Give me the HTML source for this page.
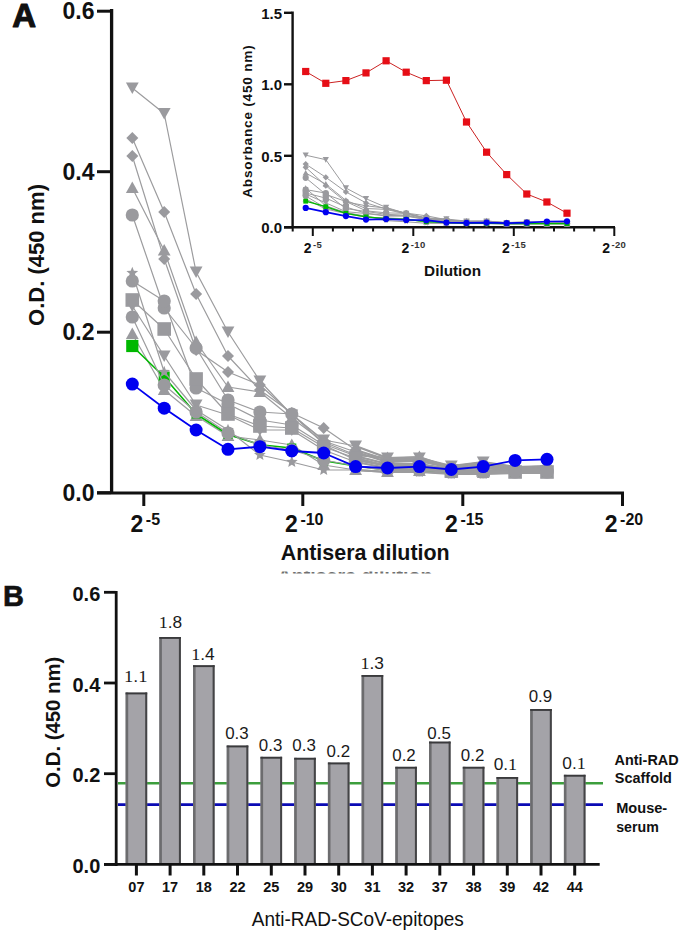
<!DOCTYPE html>
<html><head><meta charset="utf-8"><title>ELISA figure</title>
<style>
html,body{margin:0;padding:0;background:#fff;}
body{width:685px;height:935px;overflow:hidden;font-family:"Liberation Sans", sans-serif;}
svg{display:block;}
text{font-family:"Liberation Sans", sans-serif;}
.b{font-weight:bold;}
</style></head><body>
<svg width="685" height="935" viewBox="0 0 685 935">
<rect width="685" height="935" fill="#fff"/>

<text x="12.3" y="26.7" font-size="33" class="b" fill="#111" stroke="#111" stroke-width="1.1" stroke-linejoin="round">A</text>
<line x1="111.6" y1="9" x2="111.6" y2="494" stroke="#111" stroke-width="3.3"/>
<line x1="97" y1="11.2" x2="111" y2="11.2" stroke="#111" stroke-width="3"/>
<text x="94.5" y="19.3" font-size="23" class="b" text-anchor="end" fill="#111">0.6</text>
<line x1="97" y1="171.7" x2="111" y2="171.7" stroke="#111" stroke-width="3"/>
<text x="94.5" y="179.8" font-size="23" class="b" text-anchor="end" fill="#111">0.4</text>
<line x1="97" y1="332.2" x2="111" y2="332.2" stroke="#111" stroke-width="3"/>
<text x="94.5" y="340.3" font-size="23" class="b" text-anchor="end" fill="#111">0.2</text>
<line x1="97" y1="492.7" x2="111" y2="492.7" stroke="#111" stroke-width="3"/>
<text x="94.5" y="500.8" font-size="23" class="b" text-anchor="end" fill="#111">0.0</text>
<line x1="97" y1="493" x2="624" y2="493" stroke="#111" stroke-width="3"/>
<line x1="143.8" y1="493" x2="143.8" y2="506" stroke="#111" stroke-width="3"/>
<text x="145.3" y="531.5" font-size="23" class="b" text-anchor="middle" fill="#111">2<tspan font-size="16" dx="2.5" dy="-6.5">-5</tspan></text>
<line x1="302.8" y1="493" x2="302.8" y2="506" stroke="#111" stroke-width="3"/>
<text x="304.3" y="531.5" font-size="23" class="b" text-anchor="middle" fill="#111">2<tspan font-size="16" dx="2.5" dy="-6.5">-10</tspan></text>
<line x1="462.8" y1="493" x2="462.8" y2="506" stroke="#111" stroke-width="3"/>
<text x="464.3" y="531.5" font-size="23" class="b" text-anchor="middle" fill="#111">2<tspan font-size="16" dx="2.5" dy="-6.5">-15</tspan></text>
<line x1="622.5" y1="493" x2="622.5" y2="506" stroke="#111" stroke-width="3"/>
<text x="624.0" y="531.5" font-size="23" class="b" text-anchor="middle" fill="#111">2<tspan font-size="16" dx="2.5" dy="-6.5">-20</tspan></text>
<text x="365.2" y="560" font-size="21.5" class="b" text-anchor="middle" fill="#111" textLength="169" lengthAdjust="spacingAndGlyphs">Antisera dilution</text>
<clipPath id="gc"><rect x="260" y="571.6" width="200" height="1.8"/></clipPath>
<text x="355" y="582.6" font-size="20" class="b" text-anchor="middle" fill="#707070" clip-path="url(#gc)" textLength="155" lengthAdjust="spacingAndGlyphs">Antisera dilution</text>
<text transform="translate(44.3,255) rotate(-90)" font-size="22.5" class="b" text-anchor="middle" fill="#111" textLength="142" lengthAdjust="spacingAndGlyphs">O.D. (450 nm)</text>
<polyline points="132.3,88.0 164.2,113.5 196.1,272.0 228.0,332.0 259.9,381.0 291.8,415.0 323.7,440.0 355.6,446.0 387.5,458.0 419.4,458.0 451.3,466.0 483.2,462.0 515.1,467.0 547.0,466.0" fill="none" stroke="#9c9c9e" stroke-width="1.2" stroke-linejoin="round"/>
<polyline points="355.6,446.0 387.5,458.0 419.4,458.0 451.3,466.0 483.2,462.0 515.1,467.0 547.0,466.0" fill="none" stroke="#9c9c9e" stroke-width="2.2" stroke-linejoin="round"/>
<polyline points="132.3,138.0 164.2,212.0 196.1,294.0 228.0,356.0 259.9,390.0 291.8,413.0 323.7,428.0 355.6,450.0 387.5,460.0 419.4,460.0 451.3,467.0 483.2,463.0 515.1,468.0 547.0,467.0" fill="none" stroke="#9c9c9e" stroke-width="1.2" stroke-linejoin="round"/>
<polyline points="355.6,450.0 387.5,460.0 419.4,460.0 451.3,467.0 483.2,463.0 515.1,468.0 547.0,467.0" fill="none" stroke="#9c9c9e" stroke-width="2.2" stroke-linejoin="round"/>
<polyline points="132.3,156.0 164.2,259.0 196.1,350.0 228.0,372.0 259.9,385.0 291.8,414.0 323.7,441.0 355.6,452.0 387.5,462.0 419.4,461.0 451.3,468.0 483.2,465.0 515.1,469.0 547.0,468.0" fill="none" stroke="#9c9c9e" stroke-width="1.2" stroke-linejoin="round"/>
<polyline points="355.6,452.0 387.5,462.0 419.4,461.0 451.3,468.0 483.2,465.0 515.1,469.0 547.0,468.0" fill="none" stroke="#9c9c9e" stroke-width="2.2" stroke-linejoin="round"/>
<polyline points="132.3,188.0 164.2,250.5 196.1,342.0 228.0,387.0 259.9,392.0 291.8,418.0 323.7,442.0 355.6,455.0 387.5,458.0 419.4,457.0 451.3,468.0 483.2,466.0 515.1,470.0 547.0,469.0" fill="none" stroke="#9c9c9e" stroke-width="1.2" stroke-linejoin="round"/>
<polyline points="355.6,455.0 387.5,458.0 419.4,457.0 451.3,468.0 483.2,466.0 515.1,470.0 547.0,469.0" fill="none" stroke="#9c9c9e" stroke-width="2.2" stroke-linejoin="round"/>
<polyline points="132.3,215.0 164.2,308.0 196.1,348.0 228.0,400.0 259.9,412.0 291.8,414.0 323.7,444.0 355.6,456.0 387.5,464.0 419.4,464.0 451.3,469.0 483.2,467.0 515.1,470.0 547.0,470.0" fill="none" stroke="#9c9c9e" stroke-width="1.2" stroke-linejoin="round"/>
<polyline points="355.6,456.0 387.5,464.0 419.4,464.0 451.3,469.0 483.2,467.0 515.1,470.0 547.0,470.0" fill="none" stroke="#9c9c9e" stroke-width="2.2" stroke-linejoin="round"/>
<polyline points="132.3,281.0 164.2,301.0 196.1,388.0 228.0,404.0 259.9,420.0 291.8,425.0 323.7,445.0 355.6,460.0 387.5,466.0 419.4,465.0 451.3,470.0 483.2,468.0 515.1,471.0 547.0,471.0" fill="none" stroke="#9c9c9e" stroke-width="1.2" stroke-linejoin="round"/>
<polyline points="355.6,460.0 387.5,466.0 419.4,465.0 451.3,470.0 483.2,468.0 515.1,471.0 547.0,471.0" fill="none" stroke="#9c9c9e" stroke-width="2.2" stroke-linejoin="round"/>
<polyline points="132.3,300.0 164.2,329.0 196.1,379.0 228.0,414.0 259.9,426.0 291.8,428.0 323.7,447.0 355.6,458.0 387.5,466.0 419.4,466.0 451.3,471.0 483.2,470.0 515.1,472.0 547.0,472.0" fill="none" stroke="#9c9c9e" stroke-width="1.2" stroke-linejoin="round"/>
<polyline points="355.6,458.0 387.5,466.0 419.4,466.0 451.3,471.0 483.2,470.0 515.1,472.0 547.0,472.0" fill="none" stroke="#9c9c9e" stroke-width="2.2" stroke-linejoin="round"/>
<polyline points="132.3,334.0 164.2,390.0 196.1,416.0 228.0,436.0 259.9,440.0 291.8,445.0 323.7,465.0 355.6,470.0 387.5,472.0 419.4,471.0 451.3,473.0 483.2,473.0 515.1,473.0 547.0,473.0" fill="none" stroke="#9c9c9e" stroke-width="1.2" stroke-linejoin="round"/>
<polyline points="355.6,470.0 387.5,472.0 419.4,471.0 451.3,473.0 483.2,473.0 515.1,473.0 547.0,473.0" fill="none" stroke="#9c9c9e" stroke-width="2.2" stroke-linejoin="round"/>
<polygon points="132.3,94.1 138.7,82.6 125.9,82.6" fill="#9a9a9e"/>
<polygon points="164.2,119.6 170.6,108.1 157.8,108.1" fill="#9a9a9e"/>
<polygon points="196.1,278.1 202.5,266.6 189.7,266.6" fill="#9a9a9e"/>
<polygon points="228.0,338.1 234.4,326.6 221.6,326.6" fill="#9a9a9e"/>
<polygon points="259.9,387.1 266.3,375.6 253.5,375.6" fill="#9a9a9e"/>
<polygon points="291.8,421.1 298.2,409.6 285.4,409.6" fill="#9a9a9e"/>
<polygon points="323.7,446.1 330.1,434.6 317.3,434.6" fill="#9a9a9e"/>
<polygon points="355.6,452.1 362.0,440.6 349.2,440.6" fill="#9a9a9e"/>
<polygon points="387.5,464.1 393.9,452.6 381.1,452.6" fill="#9a9a9e"/>
<polygon points="419.4,464.1 425.8,452.6 413.0,452.6" fill="#9a9a9e"/>
<polygon points="451.3,472.1 457.7,460.6 444.9,460.6" fill="#9a9a9e"/>
<polygon points="483.2,468.1 489.6,456.6 476.8,456.6" fill="#9a9a9e"/>
<polygon points="515.1,473.1 521.5,461.6 508.7,461.6" fill="#9a9a9e"/>
<polygon points="547.0,472.1 553.4,460.6 540.6,460.6" fill="#9a9a9e"/>
<polygon points="132.3,132.0 138.3,138.0 132.3,144.0 126.3,138.0" fill="#9a9a9e"/>
<polygon points="164.2,206.0 170.2,212.0 164.2,218.0 158.2,212.0" fill="#9a9a9e"/>
<polygon points="196.1,288.0 202.1,294.0 196.1,300.0 190.1,294.0" fill="#9a9a9e"/>
<polygon points="228.0,350.0 234.0,356.0 228.0,362.0 222.0,356.0" fill="#9a9a9e"/>
<polygon points="259.9,384.0 265.9,390.0 259.9,396.0 253.9,390.0" fill="#9a9a9e"/>
<polygon points="291.8,407.0 297.8,413.0 291.8,419.0 285.8,413.0" fill="#9a9a9e"/>
<polygon points="323.7,422.0 329.7,428.0 323.7,434.0 317.7,428.0" fill="#9a9a9e"/>
<polygon points="355.6,444.0 361.6,450.0 355.6,456.0 349.6,450.0" fill="#9a9a9e"/>
<polygon points="387.5,454.0 393.5,460.0 387.5,466.0 381.5,460.0" fill="#9a9a9e"/>
<polygon points="419.4,454.0 425.4,460.0 419.4,466.0 413.4,460.0" fill="#9a9a9e"/>
<polygon points="451.3,461.0 457.3,467.0 451.3,473.0 445.3,467.0" fill="#9a9a9e"/>
<polygon points="483.2,457.0 489.2,463.0 483.2,469.0 477.2,463.0" fill="#9a9a9e"/>
<polygon points="515.1,462.0 521.1,468.0 515.1,474.0 509.1,468.0" fill="#9a9a9e"/>
<polygon points="547.0,461.0 553.0,467.0 547.0,473.0 541.0,467.0" fill="#9a9a9e"/>
<polygon points="132.3,150.0 138.3,156.0 132.3,162.0 126.3,156.0" fill="#9a9a9e"/>
<polygon points="164.2,253.0 170.2,259.0 164.2,265.0 158.2,259.0" fill="#9a9a9e"/>
<polygon points="196.1,344.0 202.1,350.0 196.1,356.0 190.1,350.0" fill="#9a9a9e"/>
<polygon points="228.0,366.0 234.0,372.0 228.0,378.0 222.0,372.0" fill="#9a9a9e"/>
<polygon points="259.9,379.0 265.9,385.0 259.9,391.0 253.9,385.0" fill="#9a9a9e"/>
<polygon points="291.8,408.0 297.8,414.0 291.8,420.0 285.8,414.0" fill="#9a9a9e"/>
<polygon points="323.7,435.0 329.7,441.0 323.7,447.0 317.7,441.0" fill="#9a9a9e"/>
<polygon points="355.6,446.0 361.6,452.0 355.6,458.0 349.6,452.0" fill="#9a9a9e"/>
<polygon points="387.5,456.0 393.5,462.0 387.5,468.0 381.5,462.0" fill="#9a9a9e"/>
<polygon points="419.4,455.0 425.4,461.0 419.4,467.0 413.4,461.0" fill="#9a9a9e"/>
<polygon points="451.3,462.0 457.3,468.0 451.3,474.0 445.3,468.0" fill="#9a9a9e"/>
<polygon points="483.2,459.0 489.2,465.0 483.2,471.0 477.2,465.0" fill="#9a9a9e"/>
<polygon points="515.1,463.0 521.1,469.0 515.1,475.0 509.1,469.0" fill="#9a9a9e"/>
<polygon points="547.0,462.0 553.0,468.0 547.0,474.0 541.0,468.0" fill="#9a9a9e"/>
<polygon points="132.3,181.6 138.7,193.1 125.9,193.1" fill="#9a9a9e"/>
<polygon points="164.2,244.1 170.6,255.6 157.8,255.6" fill="#9a9a9e"/>
<polygon points="196.1,335.6 202.5,347.1 189.7,347.1" fill="#9a9a9e"/>
<polygon points="228.0,380.6 234.4,392.1 221.6,392.1" fill="#9a9a9e"/>
<polygon points="259.9,385.6 266.3,397.1 253.5,397.1" fill="#9a9a9e"/>
<polygon points="291.8,411.6 298.2,423.1 285.4,423.1" fill="#9a9a9e"/>
<polygon points="323.7,435.6 330.1,447.1 317.3,447.1" fill="#9a9a9e"/>
<polygon points="355.6,448.6 362.0,460.1 349.2,460.1" fill="#9a9a9e"/>
<polygon points="387.5,451.6 393.9,463.1 381.1,463.1" fill="#9a9a9e"/>
<polygon points="419.4,450.6 425.8,462.1 413.0,462.1" fill="#9a9a9e"/>
<polygon points="451.3,461.6 457.7,473.1 444.9,473.1" fill="#9a9a9e"/>
<polygon points="483.2,459.6 489.6,471.1 476.8,471.1" fill="#9a9a9e"/>
<polygon points="515.1,463.6 521.5,475.1 508.7,475.1" fill="#9a9a9e"/>
<polygon points="547.0,462.6 553.4,474.1 540.6,474.1" fill="#9a9a9e"/>
<circle cx="132.3" cy="215.0" r="6.6" fill="#9a9a9e"/>
<circle cx="164.2" cy="308.0" r="6.6" fill="#9a9a9e"/>
<circle cx="196.1" cy="348.0" r="6.6" fill="#9a9a9e"/>
<circle cx="228.0" cy="400.0" r="6.6" fill="#9a9a9e"/>
<circle cx="259.9" cy="412.0" r="6.6" fill="#9a9a9e"/>
<circle cx="291.8" cy="414.0" r="6.6" fill="#9a9a9e"/>
<circle cx="323.7" cy="444.0" r="6.6" fill="#9a9a9e"/>
<circle cx="355.6" cy="456.0" r="6.6" fill="#9a9a9e"/>
<circle cx="387.5" cy="464.0" r="6.6" fill="#9a9a9e"/>
<circle cx="419.4" cy="464.0" r="6.6" fill="#9a9a9e"/>
<circle cx="451.3" cy="469.0" r="6.6" fill="#9a9a9e"/>
<circle cx="483.2" cy="467.0" r="6.6" fill="#9a9a9e"/>
<circle cx="515.1" cy="470.0" r="6.6" fill="#9a9a9e"/>
<circle cx="547.0" cy="470.0" r="6.6" fill="#9a9a9e"/>
<circle cx="132.3" cy="281.0" r="6.6" fill="#9a9a9e"/>
<circle cx="164.2" cy="301.0" r="6.6" fill="#9a9a9e"/>
<circle cx="196.1" cy="388.0" r="6.6" fill="#9a9a9e"/>
<circle cx="228.0" cy="404.0" r="6.6" fill="#9a9a9e"/>
<circle cx="259.9" cy="420.0" r="6.6" fill="#9a9a9e"/>
<circle cx="291.8" cy="425.0" r="6.6" fill="#9a9a9e"/>
<circle cx="323.7" cy="445.0" r="6.6" fill="#9a9a9e"/>
<circle cx="355.6" cy="460.0" r="6.6" fill="#9a9a9e"/>
<circle cx="387.5" cy="466.0" r="6.6" fill="#9a9a9e"/>
<circle cx="419.4" cy="465.0" r="6.6" fill="#9a9a9e"/>
<circle cx="451.3" cy="470.0" r="6.6" fill="#9a9a9e"/>
<circle cx="483.2" cy="468.0" r="6.6" fill="#9a9a9e"/>
<circle cx="515.1" cy="471.0" r="6.6" fill="#9a9a9e"/>
<circle cx="547.0" cy="471.0" r="6.6" fill="#9a9a9e"/>
<rect x="125.5" y="293.2" width="13.6" height="13.6" fill="#9a9a9e"/>
<rect x="157.4" y="322.2" width="13.6" height="13.6" fill="#9a9a9e"/>
<rect x="189.3" y="372.2" width="13.6" height="13.6" fill="#9a9a9e"/>
<rect x="221.2" y="407.2" width="13.6" height="13.6" fill="#9a9a9e"/>
<rect x="253.1" y="419.2" width="13.6" height="13.6" fill="#9a9a9e"/>
<rect x="285.0" y="421.2" width="13.6" height="13.6" fill="#9a9a9e"/>
<rect x="316.9" y="440.2" width="13.6" height="13.6" fill="#9a9a9e"/>
<rect x="348.8" y="451.2" width="13.6" height="13.6" fill="#9a9a9e"/>
<rect x="380.7" y="459.2" width="13.6" height="13.6" fill="#9a9a9e"/>
<rect x="412.6" y="459.2" width="13.6" height="13.6" fill="#9a9a9e"/>
<rect x="444.5" y="464.2" width="13.6" height="13.6" fill="#9a9a9e"/>
<rect x="476.4" y="463.2" width="13.6" height="13.6" fill="#9a9a9e"/>
<rect x="508.3" y="465.2" width="13.6" height="13.6" fill="#9a9a9e"/>
<rect x="540.2" y="465.2" width="13.6" height="13.6" fill="#9a9a9e"/>
<polygon points="132.3,327.6 138.7,339.1 125.9,339.1" fill="#9a9a9e"/>
<polygon points="164.2,383.6 170.6,395.1 157.8,395.1" fill="#9a9a9e"/>
<polygon points="196.1,409.6 202.5,421.1 189.7,421.1" fill="#9a9a9e"/>
<polygon points="228.0,429.6 234.4,441.1 221.6,441.1" fill="#9a9a9e"/>
<polygon points="259.9,433.6 266.3,445.1 253.5,445.1" fill="#9a9a9e"/>
<polygon points="291.8,438.6 298.2,450.1 285.4,450.1" fill="#9a9a9e"/>
<polygon points="323.7,458.6 330.1,470.1 317.3,470.1" fill="#9a9a9e"/>
<polygon points="355.6,463.6 362.0,475.1 349.2,475.1" fill="#9a9a9e"/>
<polygon points="387.5,465.6 393.9,477.1 381.1,477.1" fill="#9a9a9e"/>
<polygon points="419.4,464.6 425.8,476.1 413.0,476.1" fill="#9a9a9e"/>
<polygon points="451.3,466.6 457.7,478.1 444.9,478.1" fill="#9a9a9e"/>
<polygon points="483.2,466.6 489.6,478.1 476.8,478.1" fill="#9a9a9e"/>
<polygon points="515.1,466.6 521.5,478.1 508.7,478.1" fill="#9a9a9e"/>
<polygon points="547.0,466.6 553.4,478.1 540.6,478.1" fill="#9a9a9e"/>
<polyline points="132.3,346.0 164.2,377.0 196.1,414.0 228.0,434.5 259.9,444.7 291.8,448.0 323.7,460.7 355.6,466.0 387.5,470.0 419.4,470.0 451.3,472.0 483.2,472.0 515.1,472.0 547.0,472.0" fill="none" stroke="#00b800" stroke-width="1.6" stroke-linejoin="round"/>
<rect x="126.2" y="339.9" width="12.2" height="12.2" fill="#00b800"/>
<rect x="158.7" y="371.5" width="11.0" height="11.0" fill="#00b800"/>
<rect x="191.6" y="409.5" width="9.0" height="9.0" fill="#00b800"/>
<rect x="223.5" y="430.0" width="9.0" height="9.0" fill="#00b800"/>
<rect x="255.4" y="440.2" width="9.0" height="9.0" fill="#00b800"/>
<rect x="287.3" y="443.5" width="9.0" height="9.0" fill="#00b800"/>
<rect x="319.2" y="456.2" width="9.0" height="9.0" fill="#00b800"/>
<rect x="351.1" y="461.5" width="9.0" height="9.0" fill="#00b800"/>
<rect x="383.0" y="465.5" width="9.0" height="9.0" fill="#00b800"/>
<rect x="414.9" y="465.5" width="9.0" height="9.0" fill="#00b800"/>
<rect x="446.8" y="467.5" width="9.0" height="9.0" fill="#00b800"/>
<rect x="478.7" y="467.5" width="9.0" height="9.0" fill="#00b800"/>
<rect x="510.6" y="467.5" width="9.0" height="9.0" fill="#00b800"/>
<rect x="542.5" y="467.5" width="9.0" height="9.0" fill="#00b800"/>
<polyline points="132.3,273.0 164.2,372.0 196.1,410.0 228.0,430.0 259.9,455.0 291.8,462.0 323.7,470.0 355.6,470.0 387.5,472.0 419.4,472.0 451.3,474.0 483.2,474.0 515.1,473.0 547.0,473.0" fill="none" stroke="#9c9c9e" stroke-width="1.2" stroke-linejoin="round"/>
<polyline points="355.6,470.0 387.5,472.0 419.4,472.0 451.3,474.0 483.2,474.0 515.1,473.0 547.0,473.0" fill="none" stroke="#9c9c9e" stroke-width="2.2" stroke-linejoin="round"/>
<polyline points="132.3,306.0 164.2,356.0 196.1,405.0 228.0,415.0 259.9,430.0 291.8,430.0 323.7,450.0 355.6,462.0 387.5,468.0 419.4,468.0 451.3,472.0 483.2,471.0 515.1,472.0 547.0,472.0" fill="none" stroke="#9c9c9e" stroke-width="1.2" stroke-linejoin="round"/>
<polyline points="355.6,462.0 387.5,468.0 419.4,468.0 451.3,472.0 483.2,471.0 515.1,472.0 547.0,472.0" fill="none" stroke="#9c9c9e" stroke-width="2.2" stroke-linejoin="round"/>
<polyline points="132.3,317.0 164.2,385.0 196.1,412.0 228.0,433.0 259.9,445.0 291.8,450.0 323.7,460.0 355.6,466.0 387.5,470.0 419.4,470.0 451.3,472.0 483.2,472.0 515.1,472.0 547.0,472.0" fill="none" stroke="#9c9c9e" stroke-width="1.2" stroke-linejoin="round"/>
<polyline points="355.6,466.0 387.5,470.0 419.4,470.0 451.3,472.0 483.2,472.0 515.1,472.0 547.0,472.0" fill="none" stroke="#9c9c9e" stroke-width="2.2" stroke-linejoin="round"/>
<polygon points="132.3,266.8 133.9,270.8 138.2,271.1 134.9,273.8 135.9,278.0 132.3,275.7 128.7,278.0 129.7,273.8 126.4,271.1 130.7,270.8" fill="#9a9a9e"/>
<polygon points="164.2,365.8 165.8,369.8 170.1,370.1 166.8,372.8 167.8,377.0 164.2,374.7 160.6,377.0 161.6,372.8 158.3,370.1 162.6,369.8" fill="#9a9a9e"/>
<polygon points="196.1,403.8 197.7,407.8 202.0,408.1 198.7,410.8 199.7,415.0 196.1,412.7 192.5,415.0 193.5,410.8 190.2,408.1 194.5,407.8" fill="#9a9a9e"/>
<polygon points="228.0,423.8 229.6,427.8 233.9,428.1 230.6,430.8 231.6,435.0 228.0,432.7 224.4,435.0 225.4,430.8 222.1,428.1 226.4,427.8" fill="#9a9a9e"/>
<polygon points="259.9,448.8 261.5,452.8 265.8,453.1 262.5,455.8 263.5,460.0 259.9,457.7 256.3,460.0 257.3,455.8 254.0,453.1 258.3,452.8" fill="#9a9a9e"/>
<polygon points="291.8,455.8 293.4,459.8 297.7,460.1 294.4,462.8 295.4,467.0 291.8,464.7 288.2,467.0 289.2,462.8 285.9,460.1 290.2,459.8" fill="#9a9a9e"/>
<polygon points="323.7,463.8 325.3,467.8 329.6,468.1 326.3,470.8 327.3,475.0 323.7,472.7 320.1,475.0 321.1,470.8 317.8,468.1 322.1,467.8" fill="#9a9a9e"/>
<polygon points="355.6,463.8 357.2,467.8 361.5,468.1 358.2,470.8 359.2,475.0 355.6,472.7 352.0,475.0 353.0,470.8 349.7,468.1 354.0,467.8" fill="#9a9a9e"/>
<polygon points="387.5,465.8 389.1,469.8 393.4,470.1 390.1,472.8 391.1,477.0 387.5,474.7 383.9,477.0 384.9,472.8 381.6,470.1 385.9,469.8" fill="#9a9a9e"/>
<polygon points="419.4,465.8 421.0,469.8 425.3,470.1 422.0,472.8 423.0,477.0 419.4,474.7 415.8,477.0 416.8,472.8 413.5,470.1 417.8,469.8" fill="#9a9a9e"/>
<polygon points="451.3,467.8 452.9,471.8 457.2,472.1 453.9,474.8 454.9,479.0 451.3,476.7 447.7,479.0 448.7,474.8 445.4,472.1 449.7,471.8" fill="#9a9a9e"/>
<polygon points="483.2,467.8 484.8,471.8 489.1,472.1 485.8,474.8 486.8,479.0 483.2,476.7 479.6,479.0 480.6,474.8 477.3,472.1 481.6,471.8" fill="#9a9a9e"/>
<polygon points="515.1,466.8 516.7,470.8 521.0,471.1 517.7,473.8 518.7,478.0 515.1,475.7 511.5,478.0 512.5,473.8 509.2,471.1 513.5,470.8" fill="#9a9a9e"/>
<polygon points="547.0,466.8 548.6,470.8 552.9,471.1 549.6,473.8 550.6,478.0 547.0,475.7 543.4,478.0 544.4,473.8 541.1,471.1 545.4,470.8" fill="#9a9a9e"/>
<polygon points="132.3,312.1 138.7,300.6 125.9,300.6" fill="#9a9a9e"/>
<polygon points="164.2,362.1 170.6,350.6 157.8,350.6" fill="#9a9a9e"/>
<polygon points="196.1,411.1 202.5,399.6 189.7,399.6" fill="#9a9a9e"/>
<polygon points="228.0,421.1 234.4,409.6 221.6,409.6" fill="#9a9a9e"/>
<polygon points="259.9,436.1 266.3,424.6 253.5,424.6" fill="#9a9a9e"/>
<polygon points="291.8,436.1 298.2,424.6 285.4,424.6" fill="#9a9a9e"/>
<polygon points="323.7,456.1 330.1,444.6 317.3,444.6" fill="#9a9a9e"/>
<polygon points="355.6,468.1 362.0,456.6 349.2,456.6" fill="#9a9a9e"/>
<polygon points="387.5,474.1 393.9,462.6 381.1,462.6" fill="#9a9a9e"/>
<polygon points="419.4,474.1 425.8,462.6 413.0,462.6" fill="#9a9a9e"/>
<polygon points="451.3,478.1 457.7,466.6 444.9,466.6" fill="#9a9a9e"/>
<polygon points="483.2,477.1 489.6,465.6 476.8,465.6" fill="#9a9a9e"/>
<polygon points="515.1,478.1 521.5,466.6 508.7,466.6" fill="#9a9a9e"/>
<polygon points="547.0,478.1 553.4,466.6 540.6,466.6" fill="#9a9a9e"/>
<circle cx="132.3" cy="317.0" r="6.6" fill="#9a9a9e"/>
<circle cx="164.2" cy="385.0" r="6.6" fill="#9a9a9e"/>
<circle cx="196.1" cy="412.0" r="6.6" fill="#9a9a9e"/>
<circle cx="228.0" cy="433.0" r="6.6" fill="#9a9a9e"/>
<circle cx="259.9" cy="445.0" r="6.6" fill="#9a9a9e"/>
<circle cx="291.8" cy="450.0" r="6.6" fill="#9a9a9e"/>
<circle cx="323.7" cy="460.0" r="6.6" fill="#9a9a9e"/>
<circle cx="355.6" cy="466.0" r="6.6" fill="#9a9a9e"/>
<circle cx="387.5" cy="470.0" r="6.6" fill="#9a9a9e"/>
<circle cx="419.4" cy="470.0" r="6.6" fill="#9a9a9e"/>
<circle cx="451.3" cy="472.0" r="6.6" fill="#9a9a9e"/>
<circle cx="483.2" cy="472.0" r="6.6" fill="#9a9a9e"/>
<circle cx="515.1" cy="472.0" r="6.6" fill="#9a9a9e"/>
<circle cx="547.0" cy="472.0" r="6.6" fill="#9a9a9e"/>
<polyline points="132.3,384.1 164.2,408.2 196.1,430.0 228.0,449.3 259.9,446.7 291.8,451.0 323.7,453.0 355.6,466.6 387.5,468.0 419.4,466.6 451.3,469.5 483.2,466.6 515.1,460.4 547.0,459.3" fill="none" stroke="#0000f0" stroke-width="1.8" stroke-linejoin="round"/>
<circle cx="132.3" cy="384.1" r="6.5" fill="#0000f0"/>
<circle cx="164.2" cy="408.2" r="6.5" fill="#0000f0"/>
<circle cx="196.1" cy="430.0" r="6.5" fill="#0000f0"/>
<circle cx="228.0" cy="449.3" r="6.5" fill="#0000f0"/>
<circle cx="259.9" cy="446.7" r="6.5" fill="#0000f0"/>
<circle cx="291.8" cy="451.0" r="6.5" fill="#0000f0"/>
<circle cx="323.7" cy="453.0" r="6.5" fill="#0000f0"/>
<circle cx="355.6" cy="466.6" r="6.5" fill="#0000f0"/>
<circle cx="387.5" cy="468.0" r="6.5" fill="#0000f0"/>
<circle cx="419.4" cy="466.6" r="6.5" fill="#0000f0"/>
<circle cx="451.3" cy="469.5" r="6.5" fill="#0000f0"/>
<circle cx="483.2" cy="466.6" r="6.5" fill="#0000f0"/>
<circle cx="515.1" cy="460.4" r="6.5" fill="#0000f0"/>
<circle cx="547.0" cy="459.3" r="6.5" fill="#0000f0"/>
<line x1="292.6" y1="11.5" x2="292.6" y2="228" stroke="#111" stroke-width="2.4"/>
<line x1="284" y1="12.8" x2="292" y2="12.8" stroke="#111" stroke-width="2.4"/>
<text x="282" y="18.5" font-size="15" class="b" text-anchor="end" fill="#111">1.5</text>
<line x1="284" y1="84.3" x2="292" y2="84.3" stroke="#111" stroke-width="2.4"/>
<text x="282" y="90.0" font-size="15" class="b" text-anchor="end" fill="#111">1.0</text>
<line x1="284" y1="155.8" x2="292" y2="155.8" stroke="#111" stroke-width="2.4"/>
<text x="282" y="161.5" font-size="15" class="b" text-anchor="end" fill="#111">0.5</text>
<line x1="284" y1="227.3" x2="292" y2="227.3" stroke="#111" stroke-width="2.4"/>
<text x="282" y="233.0" font-size="15" class="b" text-anchor="end" fill="#111">0.0</text>
<line x1="284" y1="227.2" x2="615" y2="227.2" stroke="#111" stroke-width="2.6"/>
<line x1="292.7" y1="227" x2="292.7" y2="231.5" stroke="#111" stroke-width="2"/>
<line x1="312.8" y1="227" x2="312.8" y2="236" stroke="#111" stroke-width="2"/>
<line x1="332.9" y1="227" x2="332.9" y2="231.5" stroke="#111" stroke-width="2"/>
<line x1="353.0" y1="227" x2="353.0" y2="231.5" stroke="#111" stroke-width="2"/>
<line x1="373.1" y1="227" x2="373.1" y2="231.5" stroke="#111" stroke-width="2"/>
<line x1="393.2" y1="227" x2="393.2" y2="231.5" stroke="#111" stroke-width="2"/>
<line x1="413.3" y1="227" x2="413.3" y2="236" stroke="#111" stroke-width="2"/>
<line x1="433.4" y1="227" x2="433.4" y2="231.5" stroke="#111" stroke-width="2"/>
<line x1="453.5" y1="227" x2="453.5" y2="231.5" stroke="#111" stroke-width="2"/>
<line x1="473.6" y1="227" x2="473.6" y2="231.5" stroke="#111" stroke-width="2"/>
<line x1="493.7" y1="227" x2="493.7" y2="231.5" stroke="#111" stroke-width="2"/>
<line x1="513.8" y1="227" x2="513.8" y2="236" stroke="#111" stroke-width="2"/>
<line x1="533.9" y1="227" x2="533.9" y2="231.5" stroke="#111" stroke-width="2"/>
<line x1="554.0" y1="227" x2="554.0" y2="231.5" stroke="#111" stroke-width="2"/>
<line x1="574.1" y1="227" x2="574.1" y2="231.5" stroke="#111" stroke-width="2"/>
<line x1="594.2" y1="227" x2="594.2" y2="231.5" stroke="#111" stroke-width="2"/>
<line x1="614.3" y1="227" x2="614.3" y2="236" stroke="#111" stroke-width="2"/>
<text x="313.0" y="252.6" font-size="14" class="b" text-anchor="middle" fill="#111">2<tspan font-size="9.5" dx="1.5" dy="-4.8" fill="#333" letter-spacing="0.3">-5</tspan></text>
<text x="413.5" y="252.6" font-size="14" class="b" text-anchor="middle" fill="#111">2<tspan font-size="9.5" dx="1.5" dy="-4.8" fill="#333" letter-spacing="0.3">-10</tspan></text>
<text x="514.0" y="252.6" font-size="14" class="b" text-anchor="middle" fill="#111">2<tspan font-size="9.5" dx="1.5" dy="-4.8" fill="#333" letter-spacing="0.3">-15</tspan></text>
<text x="614.1" y="252.6" font-size="14" class="b" text-anchor="middle" fill="#111">2<tspan font-size="9.5" dx="1.5" dy="-4.8" fill="#333" letter-spacing="0.3">-20</tspan></text>
<text x="452.6" y="275.8" font-size="14.5" class="b" text-anchor="middle" fill="#111" textLength="57" lengthAdjust="spacingAndGlyphs">Dilution</text>
<text transform="translate(251.8,121.5) rotate(-90)" font-size="13.6" class="b" text-anchor="middle" fill="#111" textLength="152.5" lengthAdjust="spacing">Absorbance (450 nm)</text>
<polyline points="305.7,155.2 325.8,159.7 345.9,188.0 366.0,198.7 386.1,207.4 406.2,213.5 426.3,217.9 446.4,219.0 466.5,221.1 486.6,221.1 506.7,222.5 526.8,221.8 546.9,222.7 567.0,222.5" fill="none" stroke="#9c9c9e" stroke-width="1.0" stroke-linejoin="round"/>
<polyline points="305.7,164.1 325.8,177.3 345.9,191.9 366.0,202.9 386.1,209.0 406.2,213.1 426.3,215.8 446.4,219.7 466.5,221.5 486.6,221.5 506.7,222.7 526.8,222.0 546.9,222.9 567.0,222.7" fill="none" stroke="#9c9c9e" stroke-width="1.0" stroke-linejoin="round"/>
<polyline points="305.7,167.3 325.8,185.7 345.9,201.9 366.0,205.8 386.1,208.1 406.2,213.3 426.3,218.1 446.4,220.0 466.5,221.8 486.6,221.7 506.7,222.9 526.8,222.4 546.9,223.1 567.0,222.9" fill="none" stroke="#9c9c9e" stroke-width="1.0" stroke-linejoin="round"/>
<polyline points="305.7,173.0 325.8,184.1 345.9,200.4 366.0,208.5 386.1,209.4 406.2,214.0 426.3,218.3 446.4,220.6 466.5,221.1 486.6,220.9 506.7,222.9 526.8,222.5 546.9,223.3 567.0,223.1" fill="none" stroke="#9c9c9e" stroke-width="1.0" stroke-linejoin="round"/>
<polyline points="305.7,177.8 325.8,194.4 345.9,201.5 366.0,210.8 386.1,212.9 406.2,213.3 426.3,218.6 446.4,220.8 466.5,222.2 486.6,222.2 506.7,223.1 526.8,222.7 546.9,223.3 567.0,223.3" fill="none" stroke="#9c9c9e" stroke-width="1.0" stroke-linejoin="round"/>
<polyline points="305.7,188.2 325.8,205.8 345.9,212.6 366.0,216.1 386.1,220.6 406.2,221.8 426.3,223.3 446.4,223.3 466.5,223.6 486.6,223.6 506.7,224.0 526.8,224.0 546.9,223.8 567.0,223.8" fill="none" stroke="#9c9c9e" stroke-width="1.0" stroke-linejoin="round"/>
<polyline points="305.7,189.6 325.8,193.1 345.9,208.6 366.0,211.5 386.1,214.3 406.2,215.2 426.3,218.8 446.4,221.5 466.5,222.5 486.6,222.4 506.7,223.3 526.8,222.9 546.9,223.4 567.0,223.4" fill="none" stroke="#9c9c9e" stroke-width="1.0" stroke-linejoin="round"/>
<polyline points="305.7,193.0 325.8,198.1 345.9,207.0 366.0,213.3 386.1,215.4 406.2,215.8 426.3,219.2 446.4,221.1 466.5,222.5 486.6,222.5 506.7,223.4 526.8,223.3 546.9,223.6 567.0,223.6" fill="none" stroke="#9c9c9e" stroke-width="1.0" stroke-linejoin="round"/>
<polyline points="305.7,194.0 325.8,202.9 345.9,211.7 366.0,213.5 386.1,216.1 406.2,216.1 426.3,219.7 446.4,221.8 466.5,222.9 486.6,222.9 506.7,223.6 526.8,223.4 546.9,223.6 567.0,223.6" fill="none" stroke="#9c9c9e" stroke-width="1.0" stroke-linejoin="round"/>
<polyline points="305.7,196.0 325.8,208.1 345.9,212.9 366.0,216.7 386.1,218.8 406.2,219.7 426.3,221.5 446.4,222.5 466.5,223.3 486.6,223.3 506.7,223.6 526.8,223.6 546.9,223.6 567.0,223.6" fill="none" stroke="#9c9c9e" stroke-width="1.0" stroke-linejoin="round"/>
<polyline points="305.7,199.0 325.8,209.0 345.9,213.6 366.0,217.2 386.1,217.9 406.2,218.8 426.3,222.4 446.4,223.3 466.5,223.6 486.6,223.4 506.7,223.8 526.8,223.8 546.9,223.8 567.0,223.8" fill="none" stroke="#9c9c9e" stroke-width="1.0" stroke-linejoin="round"/>
<polygon points="305.7,158.1 308.8,152.6 302.6,152.6" fill="#9a9a9e"/>
<polygon points="325.8,162.7 328.9,157.1 322.7,157.1" fill="#9a9a9e"/>
<polygon points="345.9,190.9 349.0,185.3 342.8,185.3" fill="#9a9a9e"/>
<polygon points="366.0,201.6 369.1,196.0 362.9,196.0" fill="#9a9a9e"/>
<polygon points="386.1,210.3 389.2,204.8 383.0,204.8" fill="#9a9a9e"/>
<polygon points="406.2,216.4 409.3,210.8 403.1,210.8" fill="#9a9a9e"/>
<polygon points="426.3,220.9 429.4,215.3 423.2,215.3" fill="#9a9a9e"/>
<polygon points="446.4,221.9 449.5,216.3 443.3,216.3" fill="#9a9a9e"/>
<polygon points="466.5,224.1 469.6,218.5 463.4,218.5" fill="#9a9a9e"/>
<polygon points="486.6,224.1 489.7,218.5 483.5,218.5" fill="#9a9a9e"/>
<polygon points="506.7,225.5 509.8,219.9 503.6,219.9" fill="#9a9a9e"/>
<polygon points="526.8,224.8 529.9,219.2 523.7,219.2" fill="#9a9a9e"/>
<polygon points="546.9,225.7 550.0,220.1 543.8,220.1" fill="#9a9a9e"/>
<polygon points="567.0,225.5 570.1,219.9 563.9,219.9" fill="#9a9a9e"/>
<polygon points="305.7,161.0 308.8,164.1 305.7,167.2 302.6,164.1" fill="#9a9a9e"/>
<polygon points="325.8,174.2 328.9,177.3 325.8,180.4 322.7,177.3" fill="#9a9a9e"/>
<polygon points="345.9,188.8 349.0,191.9 345.9,195.0 342.8,191.9" fill="#9a9a9e"/>
<polygon points="366.0,199.8 369.1,202.9 366.0,206.0 362.9,202.9" fill="#9a9a9e"/>
<polygon points="386.1,205.9 389.2,209.0 386.1,212.1 383.0,209.0" fill="#9a9a9e"/>
<polygon points="406.2,210.0 409.3,213.1 406.2,216.2 403.1,213.1" fill="#9a9a9e"/>
<polygon points="426.3,212.7 429.4,215.8 426.3,218.9 423.2,215.8" fill="#9a9a9e"/>
<polygon points="446.4,216.6 449.5,219.7 446.4,222.8 443.3,219.7" fill="#9a9a9e"/>
<polygon points="466.5,218.4 469.6,221.5 466.5,224.6 463.4,221.5" fill="#9a9a9e"/>
<polygon points="486.6,218.4 489.7,221.5 486.6,224.6 483.5,221.5" fill="#9a9a9e"/>
<polygon points="506.7,219.6 509.8,222.7 506.7,225.8 503.6,222.7" fill="#9a9a9e"/>
<polygon points="526.8,218.9 529.9,222.0 526.8,225.1 523.7,222.0" fill="#9a9a9e"/>
<polygon points="546.9,219.8 550.0,222.9 546.9,226.0 543.8,222.9" fill="#9a9a9e"/>
<polygon points="567.0,219.6 570.1,222.7 567.0,225.8 563.9,222.7" fill="#9a9a9e"/>
<polygon points="305.7,164.2 308.8,167.3 305.7,170.4 302.6,167.3" fill="#9a9a9e"/>
<polygon points="325.8,182.6 328.9,185.7 325.8,188.8 322.7,185.7" fill="#9a9a9e"/>
<polygon points="345.9,198.8 349.0,201.9 345.9,205.0 342.8,201.9" fill="#9a9a9e"/>
<polygon points="366.0,202.7 369.1,205.8 366.0,208.9 362.9,205.8" fill="#9a9a9e"/>
<polygon points="386.1,205.0 389.2,208.1 386.1,211.2 383.0,208.1" fill="#9a9a9e"/>
<polygon points="406.2,210.2 409.3,213.3 406.2,216.4 403.1,213.3" fill="#9a9a9e"/>
<polygon points="426.3,215.0 429.4,218.1 426.3,221.2 423.2,218.1" fill="#9a9a9e"/>
<polygon points="446.4,216.9 449.5,220.0 446.4,223.1 443.3,220.0" fill="#9a9a9e"/>
<polygon points="466.5,218.7 469.6,221.8 466.5,224.9 463.4,221.8" fill="#9a9a9e"/>
<polygon points="486.6,218.6 489.7,221.7 486.6,224.8 483.5,221.7" fill="#9a9a9e"/>
<polygon points="506.7,219.8 509.8,222.9 506.7,226.0 503.6,222.9" fill="#9a9a9e"/>
<polygon points="526.8,219.3 529.9,222.4 526.8,225.5 523.7,222.4" fill="#9a9a9e"/>
<polygon points="546.9,220.0 550.0,223.1 546.9,226.2 543.8,223.1" fill="#9a9a9e"/>
<polygon points="567.0,219.8 570.1,222.9 567.0,226.0 563.9,222.9" fill="#9a9a9e"/>
<polygon points="305.7,169.9 308.8,175.5 302.6,175.5" fill="#9a9a9e"/>
<polygon points="325.8,181.0 328.9,186.6 322.7,186.6" fill="#9a9a9e"/>
<polygon points="345.9,197.3 349.0,202.9 342.8,202.9" fill="#9a9a9e"/>
<polygon points="366.0,205.4 369.1,210.9 362.9,210.9" fill="#9a9a9e"/>
<polygon points="386.1,206.3 389.2,211.8 383.0,211.8" fill="#9a9a9e"/>
<polygon points="406.2,210.9 409.3,216.5 403.1,216.5" fill="#9a9a9e"/>
<polygon points="426.3,215.2 429.4,220.7 423.2,220.7" fill="#9a9a9e"/>
<polygon points="446.4,217.5 449.5,223.1 443.3,223.1" fill="#9a9a9e"/>
<polygon points="466.5,218.0 469.6,223.6 463.4,223.6" fill="#9a9a9e"/>
<polygon points="486.6,217.8 489.7,223.4 483.5,223.4" fill="#9a9a9e"/>
<polygon points="506.7,219.8 509.8,225.4 503.6,225.4" fill="#9a9a9e"/>
<polygon points="526.8,219.4 529.9,225.0 523.7,225.0" fill="#9a9a9e"/>
<polygon points="546.9,220.2 550.0,225.7 543.8,225.7" fill="#9a9a9e"/>
<polygon points="567.0,220.0 570.1,225.6 563.9,225.6" fill="#9a9a9e"/>
<circle cx="305.7" cy="177.8" r="3.1" fill="#9a9a9e"/>
<circle cx="325.8" cy="194.4" r="3.1" fill="#9a9a9e"/>
<circle cx="345.9" cy="201.5" r="3.1" fill="#9a9a9e"/>
<circle cx="366.0" cy="210.8" r="3.1" fill="#9a9a9e"/>
<circle cx="386.1" cy="212.9" r="3.1" fill="#9a9a9e"/>
<circle cx="406.2" cy="213.3" r="3.1" fill="#9a9a9e"/>
<circle cx="426.3" cy="218.6" r="3.1" fill="#9a9a9e"/>
<circle cx="446.4" cy="220.8" r="3.1" fill="#9a9a9e"/>
<circle cx="466.5" cy="222.2" r="3.1" fill="#9a9a9e"/>
<circle cx="486.6" cy="222.2" r="3.1" fill="#9a9a9e"/>
<circle cx="506.7" cy="223.1" r="3.1" fill="#9a9a9e"/>
<circle cx="526.8" cy="222.7" r="3.1" fill="#9a9a9e"/>
<circle cx="546.9" cy="223.3" r="3.1" fill="#9a9a9e"/>
<circle cx="567.0" cy="223.3" r="3.1" fill="#9a9a9e"/>
<polygon points="305.7,185.1 306.5,187.1 308.6,187.2 306.9,188.6 307.5,190.6 305.7,189.5 303.9,190.6 304.5,188.6 302.8,187.2 304.9,187.1" fill="#9a9a9e"/>
<polygon points="325.8,202.8 326.6,204.7 328.7,204.9 327.0,206.2 327.6,208.2 325.8,207.1 324.0,208.2 324.6,206.2 322.9,204.9 325.0,204.7" fill="#9a9a9e"/>
<polygon points="345.9,209.6 346.7,211.5 348.8,211.6 347.1,213.0 347.7,215.0 345.9,213.9 344.1,215.0 344.7,213.0 343.0,211.6 345.1,211.5" fill="#9a9a9e"/>
<polygon points="366.0,213.1 366.8,215.1 368.9,215.2 367.2,216.5 367.8,218.6 366.0,217.4 364.2,218.6 364.8,216.5 363.1,215.2 365.2,215.1" fill="#9a9a9e"/>
<polygon points="386.1,217.6 386.9,219.5 389.0,219.7 387.3,221.0 387.9,223.0 386.1,221.9 384.3,223.0 384.9,221.0 383.2,219.7 385.3,219.5" fill="#9a9a9e"/>
<polygon points="406.2,218.8 407.0,220.8 409.1,220.9 407.4,222.2 408.0,224.3 406.2,223.1 404.4,224.3 405.0,222.2 403.3,220.9 405.4,220.8" fill="#9a9a9e"/>
<polygon points="426.3,220.2 427.1,222.2 429.2,222.3 427.5,223.7 428.1,225.7 426.3,224.6 424.5,225.7 425.1,223.7 423.4,222.3 425.5,222.2" fill="#9a9a9e"/>
<polygon points="446.4,220.2 447.2,222.2 449.3,222.3 447.6,223.7 448.2,225.7 446.4,224.6 444.6,225.7 445.2,223.7 443.5,222.3 445.6,222.2" fill="#9a9a9e"/>
<polygon points="466.5,220.6 467.3,222.6 469.4,222.7 467.7,224.0 468.3,226.0 466.5,224.9 464.7,226.0 465.3,224.0 463.6,222.7 465.7,222.6" fill="#9a9a9e"/>
<polygon points="486.6,220.6 487.4,222.6 489.5,222.7 487.8,224.0 488.4,226.0 486.6,224.9 484.8,226.0 485.4,224.0 483.7,222.7 485.8,222.6" fill="#9a9a9e"/>
<polygon points="506.7,221.0 507.5,222.9 509.6,223.0 507.9,224.4 508.5,226.4 506.7,225.3 504.9,226.4 505.5,224.4 503.8,223.0 505.9,222.9" fill="#9a9a9e"/>
<polygon points="526.8,221.0 527.6,222.9 529.7,223.0 528.0,224.4 528.6,226.4 526.8,225.3 525.0,226.4 525.6,224.4 523.9,223.0 526.0,222.9" fill="#9a9a9e"/>
<polygon points="546.9,220.8 547.7,222.7 549.8,222.9 548.1,224.2 548.7,226.2 546.9,225.1 545.1,226.2 545.7,224.2 544.0,222.9 546.1,222.7" fill="#9a9a9e"/>
<polygon points="567.0,220.8 567.8,222.7 569.9,222.9 568.2,224.2 568.8,226.2 567.0,225.1 565.2,226.2 565.8,224.2 564.1,222.9 566.2,222.7" fill="#9a9a9e"/>
<circle cx="305.7" cy="189.6" r="3.1" fill="#9a9a9e"/>
<circle cx="325.8" cy="193.1" r="3.1" fill="#9a9a9e"/>
<circle cx="345.9" cy="208.6" r="3.1" fill="#9a9a9e"/>
<circle cx="366.0" cy="211.5" r="3.1" fill="#9a9a9e"/>
<circle cx="386.1" cy="214.3" r="3.1" fill="#9a9a9e"/>
<circle cx="406.2" cy="215.2" r="3.1" fill="#9a9a9e"/>
<circle cx="426.3" cy="218.8" r="3.1" fill="#9a9a9e"/>
<circle cx="446.4" cy="221.5" r="3.1" fill="#9a9a9e"/>
<circle cx="466.5" cy="222.5" r="3.1" fill="#9a9a9e"/>
<circle cx="486.6" cy="222.4" r="3.1" fill="#9a9a9e"/>
<circle cx="506.7" cy="223.3" r="3.1" fill="#9a9a9e"/>
<circle cx="526.8" cy="222.9" r="3.1" fill="#9a9a9e"/>
<circle cx="546.9" cy="223.4" r="3.1" fill="#9a9a9e"/>
<circle cx="567.0" cy="223.4" r="3.1" fill="#9a9a9e"/>
<rect x="302.6" y="189.9" width="6.2" height="6.2" fill="#9a9a9e"/>
<rect x="322.7" y="195.0" width="6.2" height="6.2" fill="#9a9a9e"/>
<rect x="342.8" y="203.9" width="6.2" height="6.2" fill="#9a9a9e"/>
<rect x="362.9" y="210.2" width="6.2" height="6.2" fill="#9a9a9e"/>
<rect x="383.0" y="212.3" width="6.2" height="6.2" fill="#9a9a9e"/>
<rect x="403.1" y="212.7" width="6.2" height="6.2" fill="#9a9a9e"/>
<rect x="423.2" y="216.1" width="6.2" height="6.2" fill="#9a9a9e"/>
<rect x="443.3" y="218.0" width="6.2" height="6.2" fill="#9a9a9e"/>
<rect x="463.4" y="219.4" width="6.2" height="6.2" fill="#9a9a9e"/>
<rect x="483.5" y="219.4" width="6.2" height="6.2" fill="#9a9a9e"/>
<rect x="503.6" y="220.3" width="6.2" height="6.2" fill="#9a9a9e"/>
<rect x="523.7" y="220.2" width="6.2" height="6.2" fill="#9a9a9e"/>
<rect x="543.8" y="220.5" width="6.2" height="6.2" fill="#9a9a9e"/>
<rect x="563.9" y="220.5" width="6.2" height="6.2" fill="#9a9a9e"/>
<polygon points="305.7,197.0 308.8,191.4 302.6,191.4" fill="#9a9a9e"/>
<polygon points="325.8,205.9 328.9,200.3 322.7,200.3" fill="#9a9a9e"/>
<polygon points="345.9,214.6 349.0,209.0 342.8,209.0" fill="#9a9a9e"/>
<polygon points="366.0,216.4 369.1,210.8 362.9,210.8" fill="#9a9a9e"/>
<polygon points="386.1,219.1 389.2,213.5 383.0,213.5" fill="#9a9a9e"/>
<polygon points="406.2,219.1 409.3,213.5 403.1,213.5" fill="#9a9a9e"/>
<polygon points="426.3,222.6 429.4,217.1 423.2,217.1" fill="#9a9a9e"/>
<polygon points="446.4,224.8 449.5,219.2 443.3,219.2" fill="#9a9a9e"/>
<polygon points="466.5,225.8 469.6,220.3 463.4,220.3" fill="#9a9a9e"/>
<polygon points="486.6,225.8 489.7,220.3 483.5,220.3" fill="#9a9a9e"/>
<polygon points="506.7,226.6 509.8,221.0 503.6,221.0" fill="#9a9a9e"/>
<polygon points="526.8,226.4 529.9,220.8 523.7,220.8" fill="#9a9a9e"/>
<polygon points="546.9,226.6 550.0,221.0 543.8,221.0" fill="#9a9a9e"/>
<polygon points="567.0,226.6 570.1,221.0 563.9,221.0" fill="#9a9a9e"/>
<circle cx="305.7" cy="196.0" r="3.1" fill="#9a9a9e"/>
<circle cx="325.8" cy="208.1" r="3.1" fill="#9a9a9e"/>
<circle cx="345.9" cy="212.9" r="3.1" fill="#9a9a9e"/>
<circle cx="366.0" cy="216.7" r="3.1" fill="#9a9a9e"/>
<circle cx="386.1" cy="218.8" r="3.1" fill="#9a9a9e"/>
<circle cx="406.2" cy="219.7" r="3.1" fill="#9a9a9e"/>
<circle cx="426.3" cy="221.5" r="3.1" fill="#9a9a9e"/>
<circle cx="446.4" cy="222.5" r="3.1" fill="#9a9a9e"/>
<circle cx="466.5" cy="223.3" r="3.1" fill="#9a9a9e"/>
<circle cx="486.6" cy="223.3" r="3.1" fill="#9a9a9e"/>
<circle cx="506.7" cy="223.6" r="3.1" fill="#9a9a9e"/>
<circle cx="526.8" cy="223.6" r="3.1" fill="#9a9a9e"/>
<circle cx="546.9" cy="223.6" r="3.1" fill="#9a9a9e"/>
<circle cx="567.0" cy="223.6" r="3.1" fill="#9a9a9e"/>
<polygon points="305.7,195.9 308.8,201.5 302.6,201.5" fill="#9a9a9e"/>
<polygon points="325.8,205.9 328.9,211.5 322.7,211.5" fill="#9a9a9e"/>
<polygon points="345.9,210.5 349.0,216.1 342.8,216.1" fill="#9a9a9e"/>
<polygon points="366.0,214.1 369.1,219.7 362.9,219.7" fill="#9a9a9e"/>
<polygon points="386.1,214.8 389.2,220.4 383.0,220.4" fill="#9a9a9e"/>
<polygon points="406.2,215.7 409.3,221.3 403.1,221.3" fill="#9a9a9e"/>
<polygon points="426.3,219.3 429.4,224.8 423.2,224.8" fill="#9a9a9e"/>
<polygon points="446.4,220.2 449.5,225.7 443.3,225.7" fill="#9a9a9e"/>
<polygon points="466.5,220.5 469.6,226.1 463.4,226.1" fill="#9a9a9e"/>
<polygon points="486.6,220.3 489.7,225.9 483.5,225.9" fill="#9a9a9e"/>
<polygon points="506.7,220.7 509.8,226.3 503.6,226.3" fill="#9a9a9e"/>
<polygon points="526.8,220.7 529.9,226.3 523.7,226.3" fill="#9a9a9e"/>
<polygon points="546.9,220.7 550.0,226.3 543.8,226.3" fill="#9a9a9e"/>
<polygon points="567.0,220.7 570.1,226.3 563.9,226.3" fill="#9a9a9e"/>
<polyline points="305.7,201.2 325.8,206.7 345.9,213.3 366.0,216.9 386.1,218.7 406.2,219.3 426.3,221.6 446.4,222.5 466.5,223.3 486.6,223.3 506.7,223.6 526.8,223.6 546.9,223.6 567.0,223.6" fill="none" stroke="#00b800" stroke-width="1.3" stroke-linejoin="round"/>
<rect x="303.3" y="198.8" width="4.8" height="4.8" fill="#00b800"/>
<rect x="323.4" y="204.3" width="4.8" height="4.8" fill="#00b800"/>
<rect x="343.5" y="210.9" width="4.8" height="4.8" fill="#00b800"/>
<rect x="363.6" y="214.5" width="4.8" height="4.8" fill="#00b800"/>
<rect x="383.7" y="216.3" width="4.8" height="4.8" fill="#00b800"/>
<rect x="403.8" y="216.9" width="4.8" height="4.8" fill="#00b800"/>
<rect x="423.9" y="219.2" width="4.8" height="4.8" fill="#00b800"/>
<rect x="444.0" y="220.1" width="4.8" height="4.8" fill="#00b800"/>
<rect x="464.1" y="220.9" width="4.8" height="4.8" fill="#00b800"/>
<rect x="484.2" y="220.9" width="4.8" height="4.8" fill="#00b800"/>
<rect x="504.3" y="221.2" width="4.8" height="4.8" fill="#00b800"/>
<rect x="524.4" y="221.2" width="4.8" height="4.8" fill="#00b800"/>
<rect x="544.5" y="221.2" width="4.8" height="4.8" fill="#00b800"/>
<rect x="564.6" y="221.2" width="4.8" height="4.8" fill="#00b800"/>
<polyline points="305.7,207.9 325.8,212.2 345.9,216.1 366.0,219.6 386.1,219.1 406.2,219.9 426.3,220.2 446.4,222.6 466.5,222.9 486.6,222.6 506.7,223.2 526.8,222.6 546.9,221.5 567.0,221.3" fill="none" stroke="#0000f0" stroke-width="1.7" stroke-linejoin="round"/>
<circle cx="305.7" cy="207.9" r="3.1" fill="#0000f0"/>
<circle cx="325.8" cy="212.2" r="3.1" fill="#0000f0"/>
<circle cx="345.9" cy="216.1" r="3.1" fill="#0000f0"/>
<circle cx="366.0" cy="219.6" r="3.1" fill="#0000f0"/>
<circle cx="386.1" cy="219.1" r="3.1" fill="#0000f0"/>
<circle cx="406.2" cy="219.9" r="3.1" fill="#0000f0"/>
<circle cx="426.3" cy="220.2" r="3.1" fill="#0000f0"/>
<circle cx="446.4" cy="222.6" r="3.1" fill="#0000f0"/>
<circle cx="466.5" cy="222.9" r="3.1" fill="#0000f0"/>
<circle cx="486.6" cy="222.6" r="3.1" fill="#0000f0"/>
<circle cx="506.7" cy="223.2" r="3.1" fill="#0000f0"/>
<circle cx="526.8" cy="222.6" r="3.1" fill="#0000f0"/>
<circle cx="546.9" cy="221.5" r="3.1" fill="#0000f0"/>
<circle cx="567.0" cy="221.3" r="3.1" fill="#0000f0"/>
<polyline points="305.7,71.5 325.8,83.3 345.9,80.6 366.0,72.9 386.1,60.8 406.2,72.2 426.3,80.6 446.4,80.2 466.5,122.0 486.6,152.2 506.7,174.6 526.8,194.0 546.9,202.0 567.0,213.2" fill="none" stroke="#cc2222" stroke-width="1.0" stroke-linejoin="round"/>
<rect x="302.1" y="67.9" width="7.2" height="7.2" fill="#e60e16"/>
<rect x="322.2" y="79.7" width="7.2" height="7.2" fill="#e60e16"/>
<rect x="342.3" y="77.0" width="7.2" height="7.2" fill="#e60e16"/>
<rect x="362.4" y="69.3" width="7.2" height="7.2" fill="#e60e16"/>
<rect x="382.5" y="57.2" width="7.2" height="7.2" fill="#e60e16"/>
<rect x="402.6" y="68.6" width="7.2" height="7.2" fill="#e60e16"/>
<rect x="422.7" y="77.0" width="7.2" height="7.2" fill="#e60e16"/>
<rect x="442.8" y="76.6" width="7.2" height="7.2" fill="#e60e16"/>
<rect x="462.9" y="118.4" width="7.2" height="7.2" fill="#e60e16"/>
<rect x="483.0" y="148.6" width="7.2" height="7.2" fill="#e60e16"/>
<rect x="503.1" y="171.0" width="7.2" height="7.2" fill="#e60e16"/>
<rect x="523.2" y="190.4" width="7.2" height="7.2" fill="#e60e16"/>
<rect x="543.3" y="198.4" width="7.2" height="7.2" fill="#e60e16"/>
<rect x="563.4" y="209.6" width="7.2" height="7.2" fill="#e60e16"/>
<text x="3.0" y="605.8" font-size="29" class="b" fill="#111" stroke="#111" stroke-width="0.6">B</text>
<line x1="116.2" y1="591" x2="116.2" y2="866" stroke="#111" stroke-width="2.8"/>
<line x1="104" y1="592.3" x2="115.5" y2="592.3" stroke="#111" stroke-width="2.8"/>
<text x="100.3" y="600.8" font-size="20" class="b" text-anchor="end" fill="#111">0.6</text>
<line x1="104" y1="683.0" x2="115.5" y2="683.0" stroke="#111" stroke-width="2.8"/>
<text x="100.3" y="691.5" font-size="20" class="b" text-anchor="end" fill="#111">0.4</text>
<line x1="104" y1="773.7" x2="115.5" y2="773.7" stroke="#111" stroke-width="2.8"/>
<text x="100.3" y="782.2" font-size="20" class="b" text-anchor="end" fill="#111">0.2</text>
<line x1="104" y1="864.4" x2="115.5" y2="864.4" stroke="#111" stroke-width="2.8"/>
<text x="100.3" y="872.9" font-size="20" class="b" text-anchor="end" fill="#111">0.0</text>
<text transform="translate(60.3,722.2) rotate(-90)" font-size="20" class="b" text-anchor="middle" fill="#111" textLength="131" lengthAdjust="spacingAndGlyphs">O.D. (450 nm)</text>
<line x1="118" y1="783.3" x2="603" y2="783.3" stroke="#3c9e3c" stroke-width="2.4"/>
<line x1="118" y1="804.7" x2="603" y2="804.7" stroke="#0a0ab4" stroke-width="2.8"/>
<rect x="125.6" y="692.5" width="21.6" height="171.9" fill="#a4a3a8"/>
<rect x="125.6" y="692.5" width="2.6" height="171.9" fill="#6c6c6e"/>
<rect x="145.2" y="692.5" width="2" height="171.9" fill="#444446"/>
<rect x="125.6" y="692.5" width="21.6" height="1.9" fill="#3a3a3c"/>
<line x1="136.4" y1="865" x2="136.4" y2="875.5" stroke="#111" stroke-width="3"/>
<text x="136.4" y="892.3" font-size="14.5" class="b" text-anchor="middle" fill="#111">07</text>
<text x="135.7" y="681.8" font-size="16.3" text-anchor="middle" fill="#1a1a1a" textLength="23.5" lengthAdjust="spacingAndGlyphs"><tspan font-family="Liberation Serif" font-size="17">1</tspan>.<tspan font-family="Liberation Serif" font-size="17">1</tspan></text>
<rect x="159.3" y="637.0" width="21.6" height="227.4" fill="#a4a3a8"/>
<rect x="159.3" y="637.0" width="2.6" height="227.4" fill="#6c6c6e"/>
<rect x="178.9" y="637.0" width="2" height="227.4" fill="#444446"/>
<rect x="159.3" y="637.0" width="21.6" height="1.9" fill="#3a3a3c"/>
<line x1="170.1" y1="865" x2="170.1" y2="875.5" stroke="#111" stroke-width="3"/>
<text x="170.1" y="892.3" font-size="14.5" class="b" text-anchor="middle" fill="#111">17</text>
<text x="170.4" y="627.8" font-size="16.3" text-anchor="middle" fill="#1a1a1a" textLength="23.5" lengthAdjust="spacingAndGlyphs"><tspan font-family="Liberation Serif" font-size="17">1</tspan>.8</text>
<rect x="193.0" y="665.2" width="21.6" height="199.2" fill="#a4a3a8"/>
<rect x="193.0" y="665.2" width="2.6" height="199.2" fill="#6c6c6e"/>
<rect x="212.6" y="665.2" width="2" height="199.2" fill="#444446"/>
<rect x="193.0" y="665.2" width="21.6" height="1.9" fill="#3a3a3c"/>
<line x1="203.8" y1="865" x2="203.8" y2="875.5" stroke="#111" stroke-width="3"/>
<text x="203.8" y="892.3" font-size="14.5" class="b" text-anchor="middle" fill="#111">18</text>
<text x="203.0" y="659.6" font-size="16.3" text-anchor="middle" fill="#1a1a1a" textLength="23.5" lengthAdjust="spacingAndGlyphs"><tspan font-family="Liberation Serif" font-size="17">1</tspan>.4</text>
<rect x="226.7" y="745.5" width="21.6" height="118.9" fill="#a4a3a8"/>
<rect x="226.7" y="745.5" width="2.6" height="118.9" fill="#6c6c6e"/>
<rect x="246.3" y="745.5" width="2" height="118.9" fill="#444446"/>
<rect x="226.7" y="745.5" width="21.6" height="1.9" fill="#3a3a3c"/>
<line x1="237.5" y1="865" x2="237.5" y2="875.5" stroke="#111" stroke-width="3"/>
<text x="237.5" y="892.3" font-size="14.5" class="b" text-anchor="middle" fill="#111">22</text>
<text x="236.9" y="738.8" font-size="16.3" text-anchor="middle" fill="#1a1a1a" textLength="23.5" lengthAdjust="spacingAndGlyphs">0.3</text>
<rect x="260.5" y="756.8" width="21.6" height="107.6" fill="#a4a3a8"/>
<rect x="260.5" y="756.8" width="2.6" height="107.6" fill="#6c6c6e"/>
<rect x="280.1" y="756.8" width="2" height="107.6" fill="#444446"/>
<rect x="260.5" y="756.8" width="21.6" height="1.9" fill="#3a3a3c"/>
<line x1="271.3" y1="865" x2="271.3" y2="875.5" stroke="#111" stroke-width="3"/>
<text x="271.3" y="892.3" font-size="14.5" class="b" text-anchor="middle" fill="#111">25</text>
<text x="270.6" y="750.7" font-size="16.3" text-anchor="middle" fill="#1a1a1a" textLength="23.5" lengthAdjust="spacingAndGlyphs">0.3</text>
<rect x="294.2" y="757.8" width="21.6" height="106.6" fill="#a4a3a8"/>
<rect x="294.2" y="757.8" width="2.6" height="106.6" fill="#6c6c6e"/>
<rect x="313.8" y="757.8" width="2" height="106.6" fill="#444446"/>
<rect x="294.2" y="757.8" width="21.6" height="1.9" fill="#3a3a3c"/>
<line x1="305.0" y1="865" x2="305.0" y2="875.5" stroke="#111" stroke-width="3"/>
<text x="305.0" y="892.3" font-size="14.5" class="b" text-anchor="middle" fill="#111">29</text>
<text x="304.1" y="750.7" font-size="16.3" text-anchor="middle" fill="#1a1a1a" textLength="23.5" lengthAdjust="spacingAndGlyphs">0.3</text>
<rect x="327.9" y="762.5" width="21.6" height="101.9" fill="#a4a3a8"/>
<rect x="327.9" y="762.5" width="2.6" height="101.9" fill="#6c6c6e"/>
<rect x="347.5" y="762.5" width="2" height="101.9" fill="#444446"/>
<rect x="327.9" y="762.5" width="21.6" height="1.9" fill="#3a3a3c"/>
<line x1="338.7" y1="865" x2="338.7" y2="875.5" stroke="#111" stroke-width="3"/>
<text x="338.7" y="892.3" font-size="14.5" class="b" text-anchor="middle" fill="#111">30</text>
<text x="338.3" y="756.8" font-size="16.3" text-anchor="middle" fill="#1a1a1a" textLength="23.5" lengthAdjust="spacingAndGlyphs">0.2</text>
<rect x="361.6" y="675.0" width="21.6" height="189.4" fill="#a4a3a8"/>
<rect x="361.6" y="675.0" width="2.6" height="189.4" fill="#6c6c6e"/>
<rect x="381.2" y="675.0" width="2" height="189.4" fill="#444446"/>
<rect x="361.6" y="675.0" width="21.6" height="1.9" fill="#3a3a3c"/>
<line x1="372.4" y1="865" x2="372.4" y2="875.5" stroke="#111" stroke-width="3"/>
<text x="372.4" y="892.3" font-size="14.5" class="b" text-anchor="middle" fill="#111">31</text>
<text x="372.2" y="668.7" font-size="16.3" text-anchor="middle" fill="#1a1a1a" textLength="23.5" lengthAdjust="spacingAndGlyphs"><tspan font-family="Liberation Serif" font-size="17">1</tspan>.3</text>
<rect x="395.3" y="766.8" width="21.6" height="97.6" fill="#a4a3a8"/>
<rect x="395.3" y="766.8" width="2.6" height="97.6" fill="#6c6c6e"/>
<rect x="414.9" y="766.8" width="2" height="97.6" fill="#444446"/>
<rect x="395.3" y="766.8" width="21.6" height="1.9" fill="#3a3a3c"/>
<line x1="406.1" y1="865" x2="406.1" y2="875.5" stroke="#111" stroke-width="3"/>
<text x="406.1" y="892.3" font-size="14.5" class="b" text-anchor="middle" fill="#111">32</text>
<text x="404.0" y="760.9" font-size="16.3" text-anchor="middle" fill="#1a1a1a" textLength="23.5" lengthAdjust="spacingAndGlyphs">0.2</text>
<rect x="429.0" y="741.6" width="21.6" height="122.8" fill="#a4a3a8"/>
<rect x="429.0" y="741.6" width="2.6" height="122.8" fill="#6c6c6e"/>
<rect x="448.6" y="741.6" width="2" height="122.8" fill="#444446"/>
<rect x="429.0" y="741.6" width="21.6" height="1.9" fill="#3a3a3c"/>
<line x1="439.8" y1="865" x2="439.8" y2="875.5" stroke="#111" stroke-width="3"/>
<text x="439.8" y="892.3" font-size="14.5" class="b" text-anchor="middle" fill="#111">37</text>
<text x="439.1" y="738.8" font-size="16.3" text-anchor="middle" fill="#1a1a1a" textLength="23.5" lengthAdjust="spacingAndGlyphs">0.5</text>
<rect x="462.8" y="766.8" width="21.6" height="97.6" fill="#a4a3a8"/>
<rect x="462.8" y="766.8" width="2.6" height="97.6" fill="#6c6c6e"/>
<rect x="482.4" y="766.8" width="2" height="97.6" fill="#444446"/>
<rect x="462.8" y="766.8" width="21.6" height="1.9" fill="#3a3a3c"/>
<line x1="473.6" y1="865" x2="473.6" y2="875.5" stroke="#111" stroke-width="3"/>
<text x="473.6" y="892.3" font-size="14.5" class="b" text-anchor="middle" fill="#111">38</text>
<text x="472.6" y="760.9" font-size="16.3" text-anchor="middle" fill="#1a1a1a" textLength="23.5" lengthAdjust="spacingAndGlyphs">0.2</text>
<rect x="496.5" y="777.0" width="21.6" height="87.4" fill="#a4a3a8"/>
<rect x="496.5" y="777.0" width="2.6" height="87.4" fill="#6c6c6e"/>
<rect x="516.1" y="777.0" width="2" height="87.4" fill="#444446"/>
<rect x="496.5" y="777.0" width="21.6" height="1.9" fill="#3a3a3c"/>
<line x1="507.3" y1="865" x2="507.3" y2="875.5" stroke="#111" stroke-width="3"/>
<text x="507.3" y="892.3" font-size="14.5" class="b" text-anchor="middle" fill="#111">39</text>
<text x="505.4" y="769.6" font-size="16.3" text-anchor="middle" fill="#1a1a1a" textLength="23.5" lengthAdjust="spacingAndGlyphs">0.<tspan font-family="Liberation Serif" font-size="17">1</tspan></text>
<rect x="530.2" y="709.0" width="21.6" height="155.4" fill="#a4a3a8"/>
<rect x="530.2" y="709.0" width="2.6" height="155.4" fill="#6c6c6e"/>
<rect x="549.8" y="709.0" width="2" height="155.4" fill="#444446"/>
<rect x="530.2" y="709.0" width="21.6" height="1.9" fill="#3a3a3c"/>
<line x1="541.0" y1="865" x2="541.0" y2="875.5" stroke="#111" stroke-width="3"/>
<text x="541.0" y="892.3" font-size="14.5" class="b" text-anchor="middle" fill="#111">42</text>
<text x="540.4" y="702.4" font-size="16.3" text-anchor="middle" fill="#1a1a1a" textLength="23.5" lengthAdjust="spacingAndGlyphs">0.9</text>
<rect x="563.9" y="774.8" width="21.6" height="89.6" fill="#a4a3a8"/>
<rect x="563.9" y="774.8" width="2.6" height="89.6" fill="#6c6c6e"/>
<rect x="583.5" y="774.8" width="2" height="89.6" fill="#444446"/>
<rect x="563.9" y="774.8" width="21.6" height="1.9" fill="#3a3a3c"/>
<line x1="574.7" y1="865" x2="574.7" y2="875.5" stroke="#111" stroke-width="3"/>
<text x="574.7" y="892.3" font-size="14.5" class="b" text-anchor="middle" fill="#111">44</text>
<text x="574.0" y="769.0" font-size="16.3" text-anchor="middle" fill="#1a1a1a" textLength="23.5" lengthAdjust="spacingAndGlyphs">0.<tspan font-family="Liberation Serif" font-size="17">1</tspan></text>
<line x1="104" y1="864.4" x2="599.7" y2="864.4" stroke="#111" stroke-width="2.9"/>
<text x="614.6" y="764.9" font-size="14.2" class="b" fill="#111" textLength="64" lengthAdjust="spacingAndGlyphs">Anti-RAD</text>
<text x="614.8" y="782.8" font-size="14.2" class="b" fill="#111" textLength="57" lengthAdjust="spacingAndGlyphs">Scaffold</text>
<text x="616.2" y="813.2" font-size="14.2" class="b" fill="#111" textLength="51" lengthAdjust="spacingAndGlyphs">Mouse-</text>
<text x="616.2" y="831.8" font-size="14.2" class="b" fill="#111">serum</text>
<text x="251.8" y="926.3" font-size="19.6" fill="#111" textLength="212" lengthAdjust="spacingAndGlyphs">Anti-RAD-SCoV-epitopes</text>
</svg></body></html>
